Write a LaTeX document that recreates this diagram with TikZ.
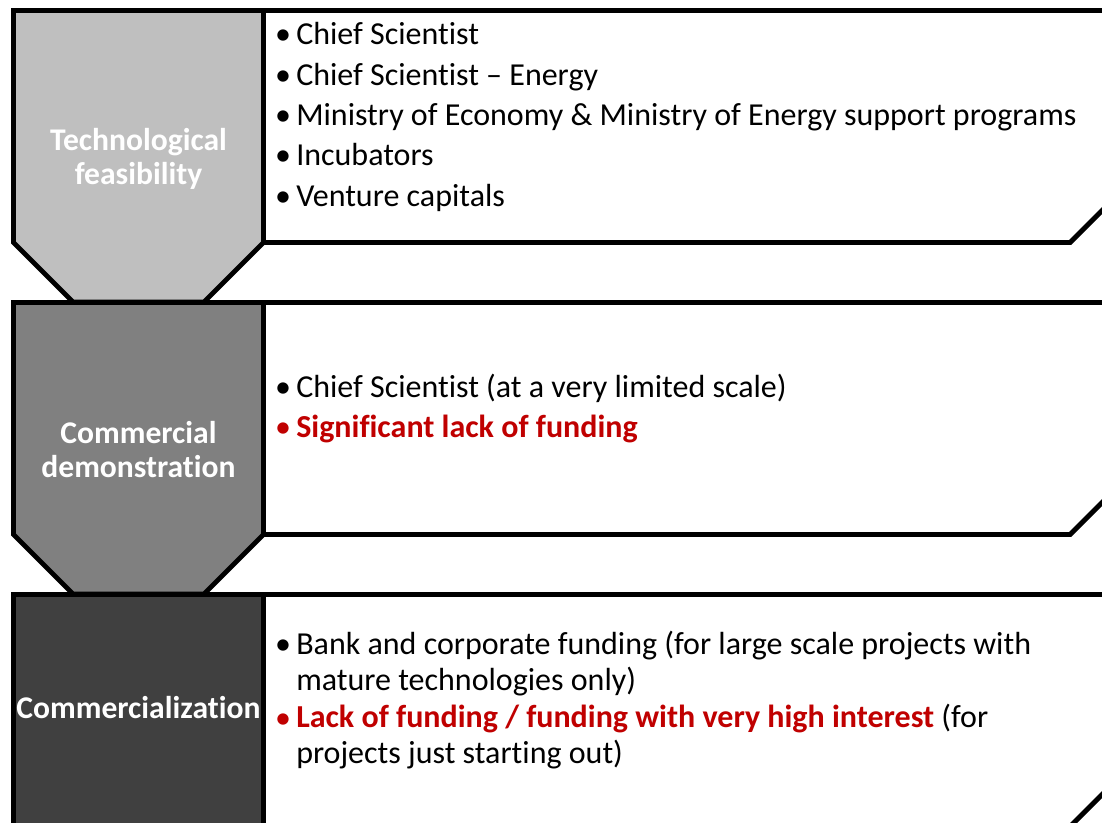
\documentclass[tikz,border=0pt]{standalone}
\usepackage{fontspec}
\setmainfont{Carlito}[Ligatures=NoCommon]
\usetikzlibrary{positioning}

\definecolor{stageA}{RGB}{191,191,191}
\definecolor{stageB}{RGB}{128,128,128}
\definecolor{stageC}{RGB}{64,64,64}
\definecolor{alertred}{RGB}{192,0,0}

\tikzset{
  stage/.style={draw=black, line width=3.7pt, line join=miter},
  panel/.style={draw=black, fill=white, line width=3.7pt, line join=miter},
  stagelabel/.style={anchor=base, text=white, font=\fontsize{23.7}{25.5}\selectfont\bfseries, align=center, inner sep=0pt},
  entry/.style={anchor=base west, font=\fontsize{24}{27}\selectfont, inner sep=0pt, align=left},
  dot/.style={anchor=base, font=\fontsize{24}{27}\selectfont, inner sep=0pt}
}

\begin{document}
\begin{tikzpicture}[x=0.75pt,y=0.75pt,yscale=-1,xscale=1]
    \useasboundingbox (0,0) rectangle (1102,823);
    \fill[white] (0,0) rectangle (1102,823);
    \clip (0,0) rectangle (1102,823);

    %Shape: Panels
    \draw [panel] (263.5,10.5) -- (1150,10.5) -- (1150,162.5) -- (1070,242.5) -- (263.5,242.5) -- cycle ;
    \draw [panel] (263.5,302.5) -- (1150,302.5) -- (1150,454.5) -- (1070,534.5) -- (263.5,534.5) -- cycle ;
    \draw [panel] (263.5,594.5) -- (1150,594.5) -- (1150,746.5) -- (1070,826.5) -- (263.5,826.5) -- cycle ;

    %Shape: Chevrons
    \draw [stage, fill=stageA] (13.5,10.5) -- (263.5,10.5) -- (263.5,242.5) -- (204,302) -- (73,302) -- (13.5,242.5) -- cycle ;
    \draw [stage, fill=stageB] (13.5,302.5) -- (263.5,302.5) -- (263.5,534.5) -- (204,594) -- (73,594) -- (13.5,534.5) -- cycle ;
    \draw [stage, fill=stageC] (13.5,594.5) -- (263.5,594.5) -- (263.5,860) -- (13.5,860) -- cycle ;

    % Stage labels (base = last line)
    \node [stagelabel] (techfeas) at (138.5,185) {Technological\\feasibility};
    \node [stagelabel] (commdemo) at (138.5,477) {Commercial\\demonstration};
    \node [stagelabel] (commerc) at (138.5,718) {Commercialization};

    % Panel 1 entries
    \node [dot] (d11) at (283,45) {\textbullet};
    \node [entry] (e11) at (296,45) {Chief Scientist};
    \node [dot] (d12) at (283,85.5) {\textbullet};
    \node [entry] (e12) at (296,85.5) {Chief Scientist – Energy};
    \node [dot] (d13) at (283,126) {\textbullet};
    \node [entry] (e13) at (296,126) {Ministry of Economy \& Ministry of Energy support programs};
    \node [dot] (d14) at (283,166) {\textbullet};
    \node [entry] (e14) at (296,166) {Incubators};
    \node [dot] (d15) at (283,206.5) {\textbullet};
    \node [entry] (e15) at (296,206.5) {Venture capitals};

    % Panel 2 entries
    \node [dot] (d21) at (283,397) {\textbullet};
    \node [entry] (e21) at (296,397) {Chief Scientist (at a very limited scale)};
    \node [dot, text=alertred] (d22) at (283,437) {\textbullet};
    \node [entry, text=alertred, font=\fontsize{24}{27}\selectfont\bfseries] (e22) at (296,437) {Significant lack of funding};

    % Panel 3 entries (base = last line)
    \node [dot] (d31) at (283,654) {\textbullet};
    \node [entry] (e31) at (296,690) {Bank and corporate funding (for large scale projects with\\mature technologies only)};
    \node [dot, text=alertred] (d32) at (283,728) {\textbullet};
    \node [entry] (e32) at (296,763) {\textcolor{alertred}{\bfseries Lack of funding / funding with very high interest} (for\\projects just starting out)};
\end{tikzpicture}
\end{document}
